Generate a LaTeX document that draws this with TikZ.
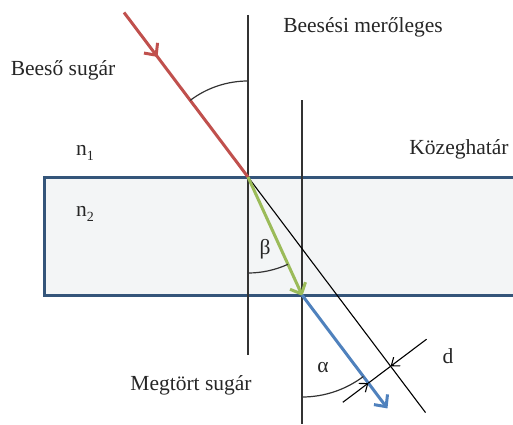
\documentclass[tikz,border=0pt]{standalone}
\usepackage{fontspec}
\setmainfont{Liberation Serif}
\usepackage{tikz}
\usetikzlibrary{arrows.meta,calc,positioning,decorations.markings}
\definecolor{rayred}{HTML}{C0504D}
\definecolor{raygreen}{HTML}{9BBB59}
\definecolor{rayblue}{HTML}{4F81BD}
\definecolor{slabline}{HTML}{34557A}
\definecolor{slabfill}{HTML}{F3F5F6}
\definecolor{normline}{HTML}{333333}
\newcommand{\mysub}[1]{\raisebox{-0.45ex}{\fontsize{14}{16}\selectfont #1}}
\tikzset{
    myray/.style={line width=3pt},
    mynormal/.style={line width=1.3pt,draw=normline},
    myarc/.style={line width=1.2pt,draw=normline},
    mythin/.style={line width=1.1pt,draw=black},
    mytip/.style={-{Straight Barb[length=9pt,width=17pt]}},
    dimtip/.style={-{Straight Barb[length=7pt,width=11pt]}},
    every node/.style={font=\fontsize{21.5}{26}\selectfont,text=black!85}
}

\begin{document}
\begin{tikzpicture}[x=1pt,y=1pt]
    \useasboundingbox (0,0) rectangle (513,424);
    \coordinate (O) at (248,247);
    \coordinate (P) at (302,129);

    % kozeg (lemez)
    \fill[slabfill] (44,129) rectangle (513,247);
    \draw[slabline,line width=3pt] (513,247) -- (44,247) -- (44,129) -- (513,129);

    % merolegesek
    \coordinate (N1a) at (248,409);
    \coordinate (N1b) at (248,69);
    \coordinate (N2a) at (302,324);
    \coordinate (N2b) at (302,0);
    \draw[mynormal] (N1a) -- (N1b);
    \draw[mynormal] (N2a) -- (N2b);

    % sugarak
    \coordinate (R0) at ($(O)+(127:206)$);
    \coordinate (T1) at ($(O)+(-53:295)$);
    \coordinate (B1) at ($(P)+(-53:142)$);
    \draw[mythin] (O) -- (T1);
    \draw[myray,rayred,
        postaction={decorate},
        decoration={markings,mark=at position 0.27 with {\arrow{Straight Barb[length=9pt,width=17pt]}}}
    ] (R0) -- (O);
    \draw[myray,raygreen,mytip,shorten >=-1pt] (O) -- (P);
    \draw[myray,rayblue,mytip] (P) -- (B1);

    % szogek
    \draw[myarc] ($(O)+(90:96)$) arc[start angle=90,end angle=127,radius=96];
    \draw[myarc] ($(O)+(270:96)$) arc[start angle=270,end angle=294.6,radius=96];
    \draw[myarc] ($(P)+(270:102)$) arc[start angle=270,end angle=307,radius=102];

    % eltolodas d
    \coordinate (D1) at ($(O)+(-53:237)$);
    \coordinate (D2) at ($(P)!(D1)!(B1)$);
    \coordinate (D1out) at ($(D1)+(37:45)$);
    \coordinate (D2out) at ($(D2)+(217:32)$);
    \draw[mythin] (D1) -- (D2);
    \draw[mythin,dimtip] (D1out) -- (D1);
    \draw[mythin,dimtip] (D2out) -- (D2);

    % feliratok
    \node (incident) at (63,354) {Beeső sugár};
    \node (normal) at (363,397) {Beesési merőleges};
    \node (nOne) at (85,271) {n\mysub{1}};
    \node (nTwo) at (85,210) {n\mysub{2}};
    \node (boundary) at (459,275) {Közeghatár};
    \node (refracted) at (191,39) {Megtört sugár};
    \node (beta) at (265,175) {β};
    \node (alpha) at (323,56) {α};
    \node (shift) at (448,68) {d};
\end{tikzpicture}
\end{document}
